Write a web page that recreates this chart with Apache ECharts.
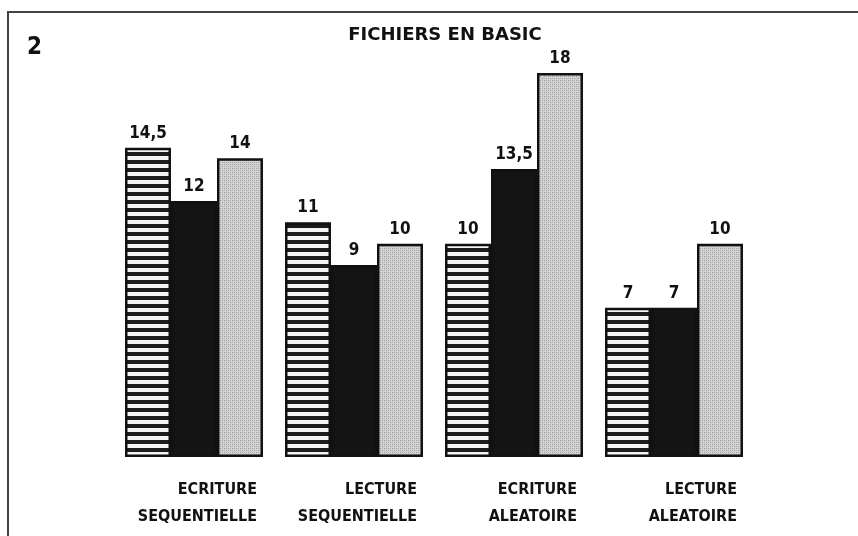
<!DOCTYPE html>
<html>
<head>
<meta charset="utf-8">
<script src="https://cdn.jsdelivr.net/npm/echarts@6/dist/echarts.min.js"></script>
<style>
  html, body { margin: 0; padding: 0; background: #fff; }
  #main { width: 858px; height: 536px; }
</style>
</head>
<body>
<div id="main"></div>
<script>
var myChart = echarts.init(document.getElementById('main'));

// categories (two lines each)
var categories = ['ECRITURE\nSEQUENTIELLE', 'LECTURE\nSEQUENTIELLE', 'ECRITURE\nALEATOIRE', 'LECTURE\nALEATOIRE'];
// three series, unnamed in the original
var striped = [14.5, 11, 10, 7];
var solid = [12, 9, 13.5, 7];
var dotted = [14, 10, 18, 10];

// patterns
function makeStripes() {
    var c = document.createElement('canvas');
    c.width = 8; c.height = 8;
    var ctx = c.getContext('2d');
    ctx.fillStyle = '#f4f4f4';
    ctx.fillRect(0, 0, 8, 8);
    ctx.fillStyle = '#1c1c1c';
    ctx.fillRect(0, 0, 8, 4);
    return c;
}
function makeDots() {
    var c = document.createElement('canvas');
    c.width = 4; c.height = 4;
    var ctx = c.getContext('2d');
    ctx.fillStyle = '#d2d2d2';
    ctx.fillRect(0, 0, 4, 4);
    ctx.fillStyle = '#9a9a9a';
    ctx.fillRect(0, 0, 1, 1);
    ctx.fillRect(2, 2, 1, 1);
    ctx.fillStyle = '#b4b4b4';
    ctx.fillRect(2, 0, 1, 1);
    ctx.fillRect(0, 2, 1, 1);
    return c;
}

var labelFmt = function (p) { return String(p.value).replace('.', ','); };
var labelStyle = {
    show: true,
    position: 'top',
    distance: 6,
    color: '#111',
    fontFamily: 'DejaVu Sans Condensed',
    fontWeight: 'bold',
    fontSize: 17,
    formatter: labelFmt
};

function barSeries(data, fill) {
    return {
        type: 'bar',
        data: data,
        barWidth: 46,
        barGap: '0%',
        itemStyle: { color: fill, borderColor: '#111', borderWidth: 2.5 },
        label: labelStyle
    };
}

option = {
    backgroundColor: '#fff',
    animation: false,
    title: {
        text: 'FICHIERS EN BASIC',
        left: 440,
        top: 21,
        textAlign: 'center',
        textStyle: { fontFamily: 'DejaVu Sans', fontWeight: 'bold', fontSize: 18, color: '#111' }
    },
    graphic: [
        { type: 'rect', shape: { x: 8, y: 12, width: 880, height: 560 }, style: { fill: null, stroke: '#444', lineWidth: 2 } },
        { type: 'text', left: 27, top: 36, style: { text: '2', fontFamily: 'DejaVu Sans Condensed', fontWeight: 'bold', fontSize: 24, fill: '#111' } }
    ],
    grid: { left: 114, right: 104, top: 73, bottom: 79 },
    xAxis: {
        type: 'category',
        data: categories,
        axisLine: { show: false },
        axisTick: { show: false },
        axisLabel: {
            margin: 19,
            formatter: function (v) { return '{a|' + v.split('\n').join('}\n{a|') + '}'; },
            rich: {
                a: { width: 126, align: 'right', fontFamily: 'DejaVu Sans Condensed', fontWeight: 'bold', fontSize: 16, lineHeight: 27, color: '#111' }
            }
        }
    },
    yAxis: { type: 'value', min: 0, max: 18, show: false },
    series: [
        barSeries(striped, { image: makeStripes(), repeat: 'repeat' }),
        barSeries(solid, '#141414'),
        barSeries(dotted, { image: makeDots(), repeat: 'repeat' })
    ]
};

myChart.setOption(option);
</script>
</body>
</html>
